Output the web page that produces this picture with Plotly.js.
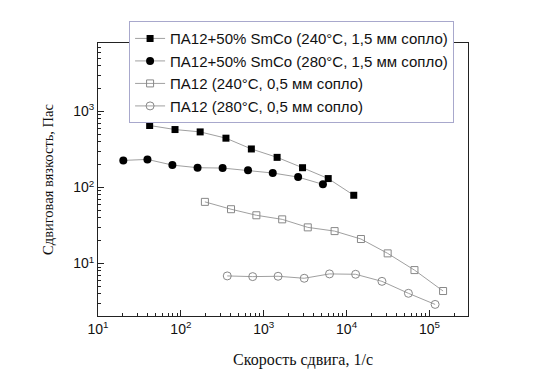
<!DOCTYPE html>
<html>
<head>
<meta charset="utf-8">
<script src="https://cdn.plot.ly/plotly-3.0.1.min.js"></script>
<style>html,body{margin:0;padding:0;background:#fff;}#chart{width:544px;height:379px;}</style>
</head>
<body>
<div id="chart"></div>
<script>
const seriesNames = [
  "ПА12+50% SmCo (240°C, 1,5 мм сопло)",
  "ПА12+50% SmCo (280°C, 1,5 мм сопло)",
  "ПА12 (240°C, 0,5 мм сопло)",
  "ПА12 (280°C, 0,5 мм сопло)"
];
const rateSmCo240 = [42, 85, 171, 350, 709, 1450, 2940, 6000, 12200];
const viscSmCo240 = [653, 578, 538, 445, 321, 249, 182, 131, 79];
const rateSmCo280 = [20.2, 39.5, 79, 159, 319, 646, 1285, 2600, 5180];
const viscSmCo280 = [227, 234, 197, 182, 180, 168, 155, 137, 110];
const ratePA240 = [195, 403, 815, 1670, 3400, 7160, 14900, 31300, 65900, 146000];
const viscPA240 = [64.7, 51.8, 43.1, 38.1, 29.9, 26.7, 21.0, 13.6, 8.2, 4.35];
const ratePA280 = [363, 736, 1490, 3080, 6220, 12850, 26700, 55700, 117000];
const viscPA280 = [6.87, 6.73, 6.8, 6.4, 7.3, 7.22, 5.83, 4.06, 2.9];
const xTickVals = [10, 100, 1000, 10000, 100000];
const xTickText = ["10<sup>1</sup>", "10<sup>2</sup>", "10<sup>3</sup>", "10<sup>4</sup>", "10<sup>5</sup>"];
const yTickVals = [10, 100, 1000];
const yTickText = ["10<sup>1</sup>", "10<sup>2</sup>", "10<sup>3</sup>"];
const xTitle = "Скорость сдвига, 1/с";
const yTitle = "Сдвиговая вязкость, Пас";

function minorVals(lo, hi) {
  const v = [];
  for (let e = lo; e <= hi; e++) for (let m = 2; m <= 9; m++) v.push(m * Math.pow(10, e));
  return v;
}

const lineGray = "#a0a0a0";
const traces = [
  {x: rateSmCo240, y: viscSmCo240, name: seriesNames[0], mode: "lines+markers",
   line: {color: lineGray, width: 1}, marker: {symbol: "square", size: 7, color: "#000"}},
  {x: rateSmCo280, y: viscSmCo280, name: seriesNames[1], mode: "lines+markers",
   line: {color: lineGray, width: 1}, marker: {symbol: "circle", size: 8, color: "#000"}},
  {x: ratePA240, y: viscPA240, name: seriesNames[2], mode: "lines+markers",
   line: {color: lineGray, width: 1}, marker: {symbol: "square-open", size: 7, color: "#888", line: {width: 1}}},
  {x: ratePA280, y: viscPA280, name: seriesNames[3], mode: "lines+markers",
   line: {color: lineGray, width: 1}, marker: {symbol: "circle-open", size: 8, color: "#888", line: {width: 1}}}
];

const axisCommon = {
  type: "log", showgrid: false, zeroline: false, showline: true, mirror: true,
  linecolor: "#222", linewidth: 1, ticks: "inside", ticklen: 6, tickcolor: "#222",
  tickmode: "array", tickfont: {family: "Liberation Sans, Arial", size: 14, color: "#111"}
};

const layout = {
  width: 544, height: 379,
  margin: {l: 98, r: 76, t: 43, b: 63},
  paper_bgcolor: "#fff", plot_bgcolor: "#fff",
  showlegend: true,
  legend: {x: 0.084, y: 1.08, xanchor: "left", yanchor: "top",
           bgcolor: "#fff", bordercolor: "#a8a8cc", borderwidth: 1,
           font: {family: "Liberation Sans, Arial", size: 15, color: "#111"},
           tracegroupgap: 0, itemwidth: 30},
  xaxis: Object.assign({}, axisCommon, {
    range: [1, 5.465], tickvals: xTickVals, ticktext: xTickText,
    minor: {tickmode: "array", tickvals: minorVals(1, 5), ticks: "inside", ticklen: 3, tickcolor: "#222"}
  }),
  yaxis: Object.assign({}, axisCommon, {
    range: [0.31, 3.9], tickvals: yTickVals, ticktext: yTickText,
    title: {text: yTitle, standoff: 16, font: {family: "Liberation Serif, Times New Roman", size: 14.5, color: "#111"}},
    minor: {tickmode: "array", tickvals: minorVals(0, 3), ticks: "inside", ticklen: 3, tickcolor: "#222"}
  }),
  annotations: [{
    text: xTitle, xref: "paper", yref: "paper", x: 0.554, y: -0.161,
    xanchor: "center", yanchor: "middle", showarrow: false,
    font: {family: "Liberation Serif, Times New Roman", size: 16, color: "#111"}
  }]
};

Plotly.newPlot("chart", traces, layout, {displayModeBar: false, staticPlot: true});
</script>
</body>
</html>
